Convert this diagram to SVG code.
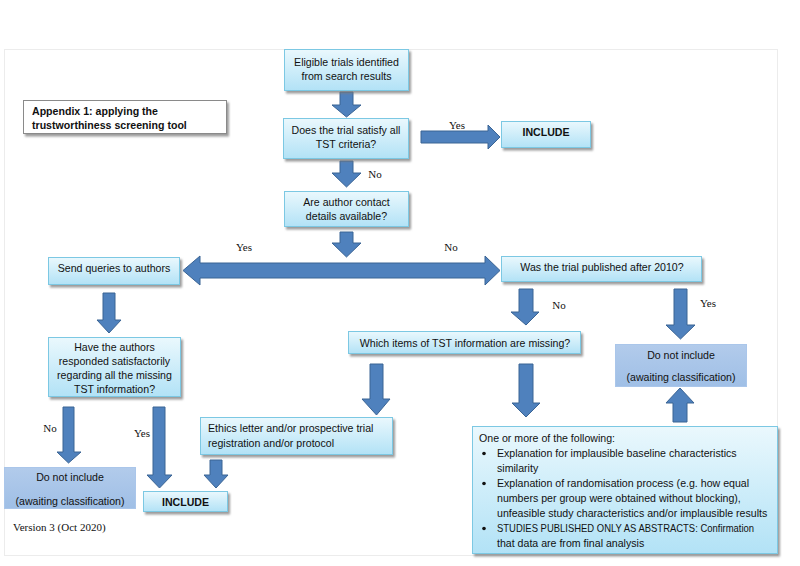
<svg xmlns="http://www.w3.org/2000/svg" width="800" height="566" viewBox="0 0 800 566">
<defs>
<linearGradient id="aq" x1="0" y1="0" x2="0" y2="1">
<stop offset="0" stop-color="#eaf8fd"/>
<stop offset="1" stop-color="#b2e2f6"/>
</linearGradient>
<linearGradient id="bl" x1="0" y1="0" x2="0" y2="1">
<stop offset="0" stop-color="#b2cbeb"/>
<stop offset="1" stop-color="#9fbfe6"/>
</linearGradient>
<filter id="sh" x="-10%" y="-10%" width="130%" height="140%">
<feDropShadow dx="2" dy="2.5" stdDeviation="1" flood-color="#7a7a7a" flood-opacity="0.75"/>
</filter>
<style>
.box{fill:url(#aq);stroke:#7cc8e3;stroke-width:1;filter:url(#sh)}
.dni{fill:url(#bl);stroke:#aac6ea;stroke-width:1}
.arr{fill:#4f81bd;stroke:#3a6494;stroke-width:1}
.t{font-family:"Liberation Sans",Arial,sans-serif;font-size:10.6px;fill:#111}
.c{text-anchor:middle}
.b{font-weight:bold}
.s{font-family:"Liberation Serif","Times New Roman",serif;font-size:11px;fill:#111}
</style>
</defs>
<rect x="0" y="0" width="800" height="566" fill="#fff"/>
<rect x="4.5" y="49.5" width="773" height="506" fill="none" stroke="#ececec" stroke-width="1"/>

<g id="connectors">
<polygon class="arr" points="340,92 353,92 353,105 361,105 346.5,117 332,105 340,105"/>
<polygon class="arr" points="340,161 353,161 353,173 361,173 346.5,187 332,173 340,173"/>
<polygon class="arr" points="340,232 353,232 353,243 361,243 346.5,257 332,243 340,243"/>
<polygon class="arr" points="421,131 488,131 488,125 500,137 488,149 488,143 421,143"/>
<polygon class="arr" points="183,270.5 200,256 200,263 485,263 485,256 500,270.5 485,285 485,278 200,278 200,285"/>
<polygon class="arr" points="103,293 115,293 115,320 121,320 109,333 97,320 103,320"/>
<polygon class="arr" points="519,289 533,289 533,312 539,312 526,325 511,312 519,312"/>
<polygon class="arr" points="674,289 687,289 687,325 695,325 680.5,339 666,325 674,325"/>
<polygon class="arr" points="370,364 383,364 383,399 390,399 376.5,415 362,399 370,399"/>
<polygon class="arr" points="519,364 533,364 533,403 540,403 526,417 512,403 519,403"/>
<polygon class="arr" points="63,407 74,407 74,452 81,452 68.5,463 57,452 63,452"/>
<polygon class="arr" points="153,407 165,407 165,475 172,475 159.5,488 147,475 153,475"/>
<polygon class="arr" points="210,460 222,460 222,475 228,475 216,488 204,475 210,475"/>
<polygon class="arr" points="673,422 687,422 687,403 694,403 680,388 666,403 673,403"/>
<text class="s" x="457" y="129" text-anchor="middle">Yes</text>
<text class="s" x="375" y="178" text-anchor="middle">No</text>
<text class="s" x="244" y="251" text-anchor="middle">Yes</text>
<text class="s" x="451" y="251" text-anchor="middle">No</text>
<text class="s" x="559" y="309" text-anchor="middle">No</text>
<text class="s" x="708" y="307" text-anchor="middle">Yes</text>
<text class="s" x="50" y="432" text-anchor="middle">No</text>
<text class="s" x="142" y="437" text-anchor="middle">Yes</text>
</g>

<g id="appendix">
<rect x="23.5" y="100.5" width="203" height="33" fill="#fff" stroke="#8a8a8a" stroke-width="1" filter="url(#sh)"/>
<text class="t b" x="32" y="115" font-size="9.2">Appendix 1: applying the</text>
<text class="t b" x="32" y="129" font-size="9.2">trustworthiness screening tool</text>
</g>

<g id="eligible">
<rect class="box" x="284.5" y="49.5" width="124" height="41"/>
<text class="t c" x="346.5" y="66">Eligible trials identified</text>
<text class="t c" x="346.5" y="79.5">from search results</text>
</g>

<g id="satisfy">
<rect class="box" x="283.5" y="118.5" width="125" height="40"/>
<text class="t c" x="346" y="134">Does the trial satisfy all</text>
<text class="t c" x="346" y="147.5">TST criteria?</text>
</g>

<g id="include1">
<rect class="box" x="501.5" y="121.5" width="89" height="26"/>
<text class="t c b" x="546" y="135.5" font-size="9.2">INCLUDE</text>
</g>

<g id="contact">
<rect class="box" x="284.5" y="191.5" width="124" height="35"/>
<text class="t c" x="346.5" y="206">Are author contact</text>
<text class="t c" x="346.5" y="220">details available?</text>
</g>

<g id="send">
<rect class="box" x="48.5" y="257.5" width="131" height="27"/>
<text class="t c" x="114" y="272">Send queries to authors</text>
</g>

<g id="published">
<rect class="box" x="501.5" y="256.5" width="200" height="25"/>
<text class="t c" x="602" y="271">Was the trial published after 2010?</text>
</g>

<g id="responded">
<rect class="box" x="48.5" y="337.5" width="132" height="59"/>
<text class="t c" x="114.5" y="351">Have the authors</text>
<text class="t c" x="114.5" y="365">responded satisfactorily</text>
<text class="t c" x="114.5" y="379">regarding all the missing</text>
<text class="t c" x="114.5" y="393">TST information?</text>
</g>

<g id="missing">
<rect class="box" x="348.5" y="331.5" width="232" height="22"/>
<text class="t c" x="465" y="347">Which items of TST information are missing?</text>
</g>

<g id="dni-right">
<rect class="dni" x="615.5" y="344.5" width="131" height="42"/>
<text class="t c" x="681" y="359">Do not include</text>
<text class="t c" x="681" y="381">(awaiting classification)</text>
</g>

<g id="ethics">
<rect class="box" x="200.5" y="417.5" width="192" height="37"/>
<text class="t" x="208" y="432">Ethics letter and/or prospective trial</text>
<text class="t" x="208" y="447">registration and/or protocol</text>
</g>

<g id="dni-left">
<rect class="dni" x="4.5" y="467.5" width="131" height="41"/>
<text class="t c" x="70" y="481">Do not include</text>
<text class="t c" x="70" y="505">(awaiting classification)</text>
</g>

<g id="include2">
<rect class="box" x="143.5" y="491.5" width="84" height="20"/>
<text class="t c b" x="185.5" y="505.5" font-size="9.2">INCLUDE</text>
</g>

<g id="oneormore">
<rect class="box" x="472.5" y="426.5" width="305" height="127"/>
<text class="t" x="479" y="442">One or more of the following:</text>
<circle cx="484" cy="453.5" r="1.8" fill="#111"/>
<text class="t" x="497" y="457">Explanation for implausible baseline characteristics</text>
<text class="t" x="497" y="472">similarity</text>
<circle cx="484" cy="483.5" r="1.8" fill="#111"/>
<text class="t" x="497" y="487">Explanation of randomisation process (e.g. how equal</text>
<text class="t" x="497" y="502">numbers per group were obtained without blocking),</text>
<text class="t" x="497" y="517">unfeasible study characteristics and/or implausible results</text>
<circle cx="484" cy="528.5" r="1.8" fill="#111"/>
<text class="t" x="497" y="532" textLength="257" lengthAdjust="spacingAndGlyphs">STUDIES PUBLISHED ONLY AS ABSTRACTS: Confirmation</text>
<text class="t" x="497" y="547">that data are from final analysis</text>
</g>

<g id="version">
<text class="s" x="13" y="531" font-size="11.3">Version 3 (Oct 2020)</text>
</g>
</svg>
